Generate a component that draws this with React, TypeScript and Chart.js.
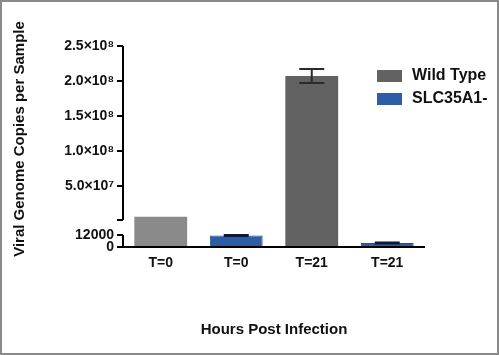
import React, { useEffect, useRef } from "react";
import { Chart, registerables } from "chart.js";
Chart.register(...registerables);

const categories = ["T=0", "T=0", "T=21", "T=21"];
const wildTypeMeans: (number | null)[] = [6.0e6, null, 2.07e8, null];
const wildTypeErrors: (number | null)[] = [0, null, 1.0e7, null];
const slcMeans: (number | null)[] = [null, 11500, null, 4000];
const slcErrors: (number | null)[] = [null, 500, null, 400];
const wildTypeColors = ["#8a8a8a", "#8a8a8a", "#626262", "#626262"];
const slcColor = "#2d5da6";
const yTickValues = [0, 12000, 1.5e6, 5e7, 1e8, 1.5e8, 2e8, 2.5e8];
const yTickLabels = ["0", "12000", "", "5.0×10⁷", "1.0×10⁸", "1.5×10⁸", "2.0×10⁸", "2.5×10⁸"];
const legendLabels = ["Wild Type", "SLC35A1-"];
const legendColors = ["#626262", "#2d5da6"];

// broken axis: lower segment 0..12000, upper segment ~1.5e6..2.5e8
const LOW_MAX = 12000;
const LOW_UNIT = 1000;
const UPPER_BASE = 26;
const UPPER_UNIT = 5e7 / 35;
const toAxis = (v: number) => (v <= LOW_MAX ? v / LOW_UNIT : UPPER_BASE + v / UPPER_UNIT);

const FONT = "'Liberation Sans', Arial, sans-serif";

export default function App() {
  const ref = useRef<HTMLCanvasElement>(null);
  useEffect(() => {
    const canvas = ref.current!;
    const overlay = {
      id: "overlay",
      afterDatasetsDraw(chart: any) {
        const ctx = chart.ctx;
        const y = chart.scales.y;
        const area = chart.chartArea;
        ctx.save();
        // error bars
        const errs = [wildTypeErrors, slcErrors];
        const means = [wildTypeMeans, slcMeans];
        const ecol = ["#2b2b2b", "#0d1b38"];
        for (let d = 0; d < 2; d++) {
          const meta = chart.getDatasetMeta(d);
          meta.data.forEach((el: any, i: number) => {
            const m = means[d][i];
            const e = errs[d][i];
            if (m == null || !e) return;
            const yt = y.getPixelForValue(toAxis(m + e));
            const yb = y.getPixelForValue(toAxis(m - e));
            ctx.strokeStyle = ecol[d];
            ctx.lineWidth = 2;
            ctx.beginPath();
            ctx.moveTo(el.x, yt);
            ctx.lineTo(el.x, yb);
            ctx.moveTo(el.x - 12.5, yt);
            ctx.lineTo(el.x + 12.5, yt);
            ctx.moveTo(el.x - 12.5, yb);
            ctx.lineTo(el.x + 12.5, yb);
            ctx.stroke();
          });
        }
        // axis lines
        ctx.strokeStyle = "#000";
        ctx.lineWidth = 2;
        ctx.beginPath();
        const x0 = area.left;
        ctx.moveTo(x0, y.getPixelForValue(0) + 1);
        ctx.lineTo(x0, y.getPixelForValue(toAxis(LOW_MAX)));
        ctx.moveTo(x0, y.getPixelForValue(toAxis(yTickValues[2])));
        ctx.lineTo(x0, y.getPixelForValue(toAxis(yTickValues[7])));
        ctx.moveTo(x0 - 1, area.bottom);
        ctx.lineTo(area.right, area.bottom);
        ctx.stroke();
        ctx.restore();
      },
      afterDraw(chart: any) {
        const ctx = chart.ctx;
        ctx.save();
        ctx.fillStyle = "#111";
        // y title
        ctx.translate(20, 139);
        ctx.rotate(-Math.PI / 2);
        ctx.font = `bold 15px ${FONT}`;
        ctx.textAlign = "center";
        ctx.textBaseline = "middle";
        ctx.fillText("Viral Genome Copies per Sample", 0, 0);
        ctx.restore();
        ctx.save();
        ctx.fillStyle = "#111";
        ctx.font = `bold 15px ${FONT}`;
        ctx.textAlign = "center";
        ctx.textBaseline = "middle";
        ctx.fillText("Hours Post Infection", (chart.chartArea.left + chart.chartArea.right) / 2, 330);
        // legend
        ctx.textAlign = "left";
        ctx.font = `bold 16px ${FONT}`;
        legendLabels.forEach((t, i) => {
          const yy = 70 + i * 23;
          ctx.fillStyle = legendColors[i];
          ctx.fillRect(377, yy, 25, 12);
          ctx.fillStyle = "#111";
          ctx.fillText(t, 412, yy + 6);
        });
        // frame
        ctx.strokeStyle = "#8a8a8a";
        ctx.lineWidth = 2;
        ctx.strokeRect(1, 1, 497, 353);
        ctx.restore();
      },
    };
    const chart = new Chart(canvas, {
      type: "bar",
      data: {
        labels: categories,
        datasets: [
          {
            label: legendLabels[0],
            data: wildTypeMeans.map((v) => (v == null ? null : toAxis(v))),
            backgroundColor: wildTypeColors,
            skipNull: true,
            barPercentage: 0.7,
            categoryPercentage: 1,
          } as any,
          {
            label: legendLabels[1],
            data: slcMeans.map((v) => (v == null ? null : toAxis(v))),
            backgroundColor: slcColor,
            borderColor: "#24508f",
            borderWidth: 1,
            skipNull: true,
            barPercentage: 0.7,
            categoryPercentage: 1,
          } as any,
        ],
      },
      options: {
        responsive: false,
        animation: false,
        layout: { padding: { left: 0, top: 46, right: 74, bottom: 78 } },
        plugins: { legend: { display: false }, tooltip: { enabled: false } },
        scales: {
          x: {
            type: "category",
            grid: { display: false, drawTicks: false },
            border: { display: false },
            ticks: { color: "#111", font: { family: FONT, size: 14, weight: "bold" }, padding: 8 },
            afterFit: (s: any) => {
              s.height = 30;
            },
          },
          y: {
            type: "linear",
            min: 0,
            max: toAxis(yTickValues[7]),
            border: { display: false },
            grid: { drawOnChartArea: false, drawTicks: true, tickLength: 6, color: "#000", lineWidth: 2 },
            afterBuildTicks: (s: any) => {
              s.ticks = yTickValues.map((v) => ({ value: toAxis(v) }));
            },
            ticks: {
              autoSkip: false,
              padding: 3,
              color: "#111",
              font: { family: FONT, size: 14, weight: "bold" },
              callback: (_v: any, i: number) => yTickLabels[i],
            },
            afterFit: (s: any) => {
              s.width = 123;
            },
          },
        },
      },
      plugins: [overlay],
    } as any);
    return () => chart.destroy();
  }, []);
  return (
    <div style={{ position: "fixed", left: 0, top: 0, width: 499, height: 355, background: "#fff" }}>
      <canvas ref={ref} width={499} height={355} style={{ display: "block" }} />
    </div>
  );
}
